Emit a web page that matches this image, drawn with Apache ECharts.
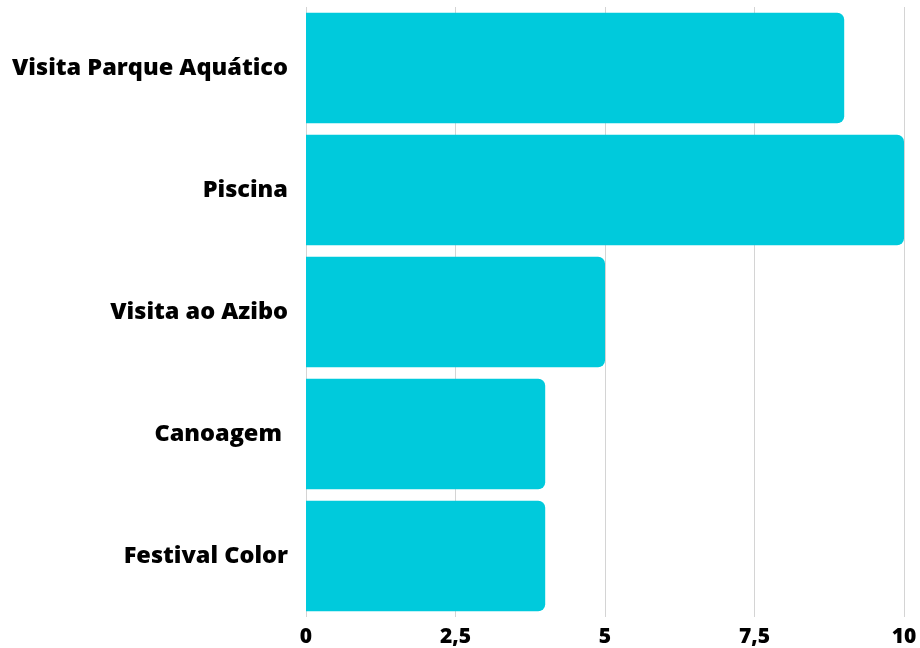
<!DOCTYPE html>
<html><head><meta charset="utf-8">
<script src="https://cdn.jsdelivr.net/npm/echarts@6/dist/echarts.min.js"></script>
<style>html,body{margin:0;padding:0;background:#fff;overflow:hidden}#c{width:920px;height:648px}</style>
</head><body><div id="c"></div>
<script>
const categories = ['Visita Parque Aquático','Piscina','Visita ao Azibo','Canoagem ','Festival Color'];
const values = [9, 10, 5, 4, 4];
const tickLabels = {0:'0', 2.5:'2,5', 5:'5', 7.5:'7,5', 10:'10'};
const chart = echarts.init(document.getElementById('c'));
chart.setOption({
  animation:false,
  grid:{left:306,right:16,top:7,bottom:25,containLabel:false},
  xAxis:{type:'value',min:0,max:10,interval:2.5,
    axisLine:{show:false},axisTick:{show:false},
    splitLine:{show:true,lineStyle:{color:'#d4d4d4',width:1}},
    axisLabel:{margin:10,color:'#000',fontFamily:'Open Sans',fontWeight:800,fontSize:21,
      formatter:v=>tickLabels[v]!==undefined?tickLabels[v]:String(v)}},
  yAxis:{type:'category',data:categories,inverse:true,
    axisLine:{show:false},axisTick:{show:false},
    axisLabel:{margin:18,color:'#000',fontFamily:'Open Sans',fontWeight:800,fontSize:23.5}},
  series:[{type:'bar',data:values,barCategoryGap:'9.5%',
    itemStyle:{color:'#00CADC',borderRadius:[0,7,7,0]}}]
});
</script></body></html>
